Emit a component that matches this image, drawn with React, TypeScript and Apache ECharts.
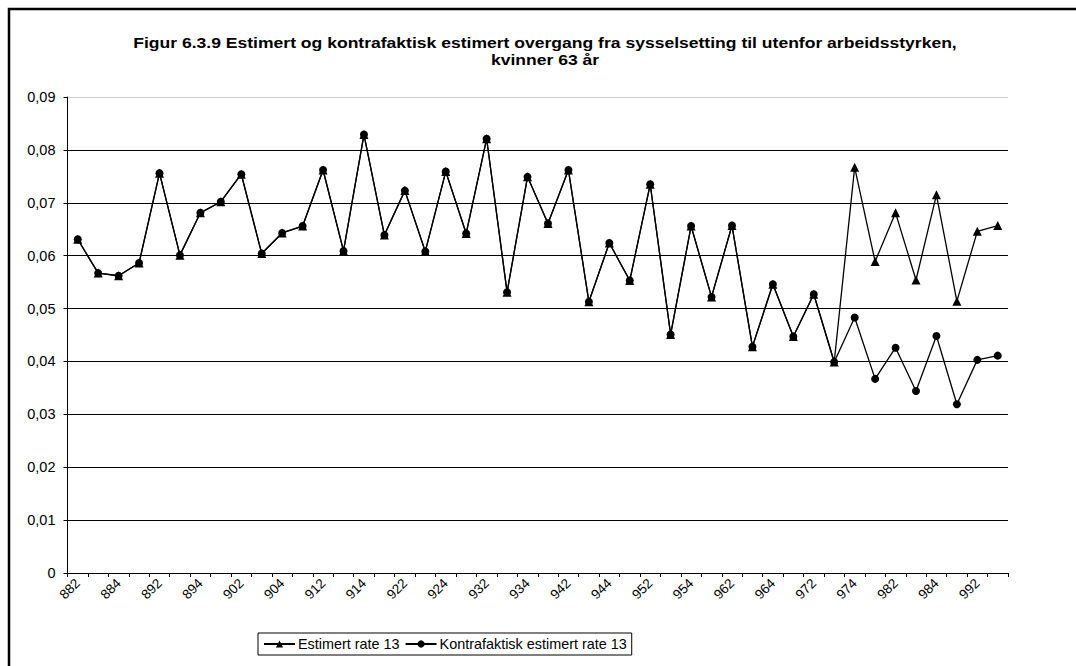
import React, { useEffect, useRef } from "react";
import * as echarts from "echarts";

const categories: string[] = [
  "882", "883", "884",
  "891", "892", "893", "894",
  "901", "902", "903", "904",
  "911", "912", "913", "914",
  "921", "922", "923", "924",
  "931", "932", "933", "934",
  "941", "942", "943", "944",
  "951", "952", "953", "954",
  "961", "962", "963", "964",
  "971", "972", "973", "974",
  "981", "982", "983", "984",
  "991", "992", "993",
];

const estimert: number[] = [
  0.0631, 0.0567, 0.0562, 0.0586, 0.0756, 0.0601, 0.0681, 0.0702, 0.0754, 0.0604,
  0.0643, 0.0656, 0.0762, 0.0609, 0.0829, 0.0639, 0.0723, 0.0608, 0.0759, 0.0642,
  0.0821, 0.0531, 0.0749, 0.0661, 0.0762, 0.0513, 0.0624, 0.0553, 0.0735, 0.0451,
  0.0656, 0.0522, 0.0657, 0.0428, 0.0546, 0.0447, 0.0527, 0.0399, 0.0767, 0.0589,
  0.0681, 0.0554, 0.0715, 0.0514, 0.0646, 0.0657,
];

const kontrafaktisk: number[] = [
  0.0631, 0.0567, 0.0562, 0.0586, 0.0756, 0.0601, 0.0681, 0.0702, 0.0754, 0.0604,
  0.0643, 0.0656, 0.0762, 0.0609, 0.0829, 0.0639, 0.0723, 0.0608, 0.0759, 0.0642,
  0.0821, 0.0531, 0.0749, 0.0661, 0.0762, 0.0513, 0.0624, 0.0553, 0.0735, 0.0451,
  0.0656, 0.0522, 0.0657, 0.0428, 0.0546, 0.0447, 0.0527, 0.0399, 0.0483, 0.0367,
  0.0426, 0.0344, 0.0448, 0.0319, 0.0403, 0.0411,
];

const seriesNames: string[] = ["Estimert rate 13", "Kontrafaktisk estimert rate 13"];
const titleLines: string[] = [
  "Figur 6.3.9 Estimert og kontrafaktisk estimert overgang fra sysselsetting til utenfor arbeidsstyrken,",
  "kvinner 63 år",
];

const FONT = "'Liberation Sans', Arial, Helvetica, sans-serif";

export default function App() {
  const ref = useRef<HTMLDivElement>(null);

  useEffect(() => {
    document.documentElement.style.overflow = "hidden";
    document.body.style.overflow = "hidden";
    if (!ref.current) return;
    const chart = echarts.init(ref.current, undefined, { renderer: "svg" });
    const gridColors = ["#000", "#000", "#000", "#000", "#000", "#000", "#000", "#000", "#000", "#d0d0d0"];
    const titleStyle = { fontFamily: FONT, fontSize: 15, fontWeight: "bold", fill: "#000", align: "center", verticalAlign: "middle" };
    chart.setOption({
      animation: false,
      backgroundColor: "#fff",
      textStyle: { fontFamily: FONT, color: "#000" },
      graphic: [
        {
          type: "polyline",
          shape: { points: [[9, 666], [9, 9], [1076, 9]] },
          style: { fill: "none", stroke: "#000", lineWidth: 2.5 },
          silent: true,
        },
        {
          type: "text",
          x: 545,
          y: 42.5,
          scaleX: 1.17,
          style: { ...titleStyle, text: titleLines[0] },
          silent: true,
        },
        {
          type: "text",
          x: 545,
          y: 59.5,
          scaleX: 1.17,
          style: { ...titleStyle, text: titleLines[1] },
          silent: true,
        },
      ],
      legend: {
        left: 258,
        top: 633,
        orient: "horizontal",
        borderColor: "#000",
        borderWidth: 1,
        padding: [4, 5, 4, 5],
        itemWidth: 31,
        itemHeight: 9,
        itemGap: 5,
        textStyle: { fontFamily: FONT, fontSize: 14.4, color: "#000", padding: [0, 0, 0, -2] },
        data: seriesNames,
      },
      grid: { left: 67.5, right: 68, top: 97, bottom: 93, containLabel: false },
      xAxis: {
        type: "category",
        data: categories,
        boundaryGap: true,
        axisLine: { lineStyle: { color: "#000", width: 1 } },
        axisTick: { show: true, interval: 0, length: 4, lineStyle: { color: "#000" } },
        axisLabel: {
          interval: 1,
          rotate: 45,
          margin: 8,
          fontFamily: FONT,
          fontSize: 13.5,
          color: "#000",
        },
        splitLine: { show: false },
      },
      yAxis: {
        type: "value",
        min: 0,
        max: 0.09,
        interval: 0.01,
        axisLine: { show: true, lineStyle: { color: "#000", width: 1 } },
        axisTick: { show: true, length: 4, lineStyle: { color: "#000" } },
        axisLabel: {
          margin: 12,
          fontFamily: FONT,
          fontSize: 14.5,
          color: "#000",
          formatter: (v: number) => (v === 0 ? "0" : v.toFixed(2).replace(".", ",")),
        },
        splitLine: { show: true, lineStyle: { color: gridColors, width: 1 } },
      },
      series: [
        {
          name: seriesNames[0],
          type: "line",
          data: estimert,
          symbol: "triangle",
          symbolSize: 9,
          showAllSymbol: true,
          lineStyle: { color: "#000", width: 1.3 },
          itemStyle: { color: "#000" },
        },
        {
          name: seriesNames[1],
          type: "line",
          data: kontrafaktisk,
          symbol: "circle",
          symbolSize: 8,
          showAllSymbol: true,
          lineStyle: { color: "#000", width: 1.3 },
          itemStyle: { color: "#000" },
        },
      ],
    });
    return () => chart.dispose();
  }, []);

  return (
    <div
      ref={ref}
      style={{ position: "absolute", left: 0, top: 0, width: 1076, height: 666, overflow: "hidden", background: "#fff" }}
    />
  );
}
